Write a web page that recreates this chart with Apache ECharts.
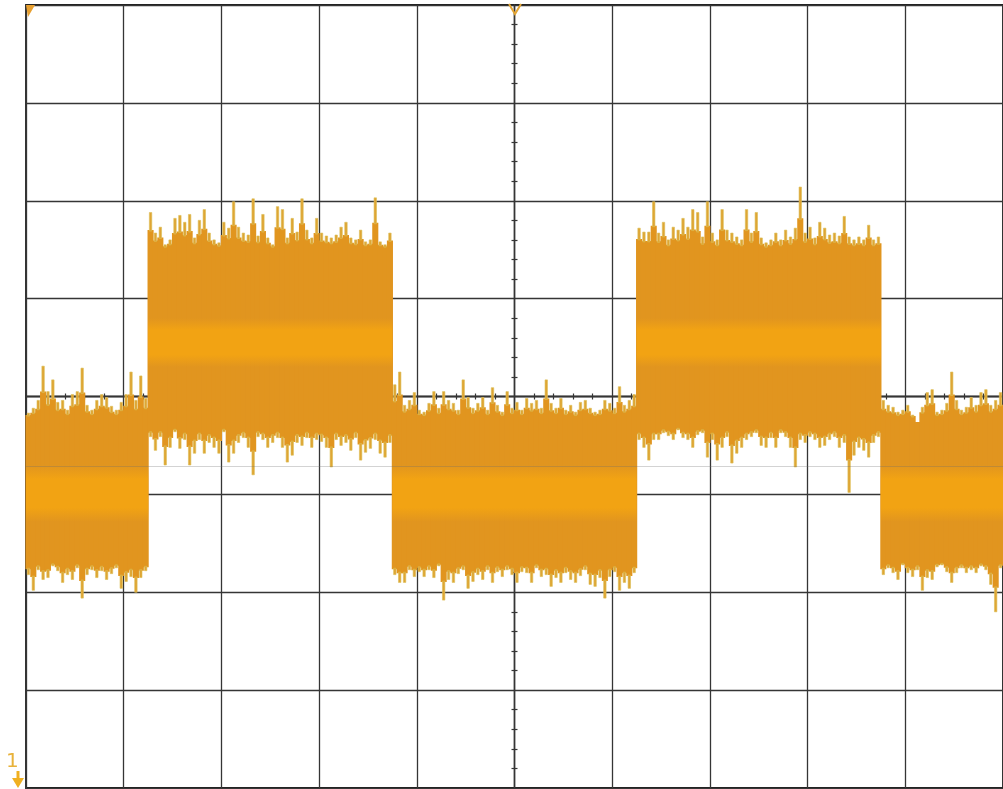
<!DOCTYPE html>
<html>
<head>
<meta charset="utf-8">
<script src="https://cdn.jsdelivr.net/npm/echarts@6/dist/echarts.min.js"></script>
<style>
html,body{margin:0;padding:0;background:#fff;}
#chart{width:1003px;height:789px;}
</style>
</head>
<body>
<div id="chart"></div>
<script>
// ---- Data (screen divisions; time -5..5 div, amplitude -4..4 div) ----
const T0 = -5;          // left edge of screen (div)
const DT = 0.05;        // sample column width (div)

// state 1: low (t -5 .. -3.75)
const lowA_top = [-0.17,-0.12,-0.04,0.31,0.05,0.17,-0.06,-0.04,-0.14,0.02,0.05,0.29,-0.09,-0.14,-0.04,0.02,-0.01,-0.10,-0.14,-0.06,0.02,0.25,-0.04,0.21,-0.02];
const lowA_bot = [-1.82,-1.98,-1.77,-1.87,-1.85,-1.73,-1.78,-1.90,-1.82,-1.87,-1.75,-2.06,-1.82,-1.77,-1.85,-1.78,-1.87,-1.81,-1.75,-1.96,-1.89,-1.84,-2.00,-1.85,-1.78];
// state 2: high (t -3.75 .. -1.25)
const highA_top = [1.88,1.67,1.73,1.55,1.60,1.82,1.85,1.78,1.86,1.62,1.80,1.91,1.67,1.60,1.57,1.78,1.72,1.99,1.73,1.67,1.65,2.02,1.64,1.86,1.62,1.55,1.94,1.91,1.62,1.82,1.68,2.02,1.70,1.62,1.82,1.67,1.64,1.62,1.65,1.73,1.78,1.62,1.60,1.70,1.58,1.60,2.03,1.58,1.55,1.67];
const highA_bot = [-0.41,-0.55,-0.41,-0.70,-0.52,-0.36,-0.53,-0.44,-0.70,-0.58,-0.44,-0.58,-0.47,-0.52,-0.58,-0.36,-0.67,-0.58,-0.47,-0.42,-0.52,-0.80,-0.41,-0.44,-0.52,-0.47,-0.42,-0.52,-0.67,-0.60,-0.47,-0.50,-0.42,-0.52,-0.44,-0.46,-0.52,-0.72,-0.44,-0.50,-0.47,-0.55,-0.42,-0.65,-0.57,-0.53,-0.44,-0.58,-0.62,-0.47];
// state 3: low (t -1.25 .. 1.25)
const lowB_top = [0.12,0.25,-0.09,-0.04,0.04,-0.14,-0.16,-0.07,0.05,-0.12,0.05,-0.04,-0.07,-0.14,0.17,-0.01,-0.12,-0.07,-0.01,-0.14,0.09,-0.09,-0.16,0.05,-0.12,-0.06,-0.14,-0.02,-0.07,-0.04,-0.12,0.17,-0.07,-0.12,-0.02,-0.14,-0.09,-0.16,-0.06,-0.04,-0.12,-0.16,-0.14,-0.04,-0.07,-0.12,0.10,-0.09,-0.04,0.02];
const lowB_bot = [-1.82,-1.90,-1.90,-1.77,-1.84,-1.79,-1.84,-1.77,-1.85,-1.73,-2.08,-1.87,-1.90,-1.81,-1.77,-1.96,-1.89,-1.82,-1.87,-1.77,-1.90,-1.79,-1.84,-1.77,-1.82,-1.90,-1.79,-1.80,-1.90,-1.75,-1.84,-1.82,-1.94,-1.85,-1.90,-1.80,-1.87,-1.90,-1.83,-1.77,-1.92,-1.94,-1.85,-2.06,-1.84,-1.79,-1.98,-1.90,-1.96,-1.80];
// state 4: high (t 1.25 .. 3.75)
const highB_top = [1.72,1.68,1.68,1.99,1.67,1.78,1.60,1.73,1.70,1.82,1.73,1.91,1.88,1.63,1.99,1.67,1.60,1.91,1.70,1.67,1.63,1.60,1.91,1.67,1.88,1.62,1.57,1.60,1.67,1.60,1.70,1.63,1.72,2.14,1.67,1.73,1.62,1.78,1.72,1.65,1.67,1.64,1.84,1.63,1.60,1.63,1.60,1.75,1.60,1.63];
const highB_bot = [-0.44,-0.52,-0.65,-0.44,-0.44,-0.37,-0.40,-0.44,-0.34,-0.42,-0.44,-0.52,-0.39,-0.37,-0.62,-0.44,-0.65,-0.52,-0.41,-0.68,-0.58,-0.52,-0.44,-0.41,-0.37,-0.50,-0.52,-0.42,-0.52,-0.37,-0.41,-0.52,-0.72,-0.44,-0.47,-0.41,-0.44,-0.52,-0.50,-0.44,-0.41,-0.52,-0.47,-0.98,-0.60,-0.52,-0.55,-0.62,-0.47,-0.41];
// state 5: low (t 3.75 .. 5)
const lowC_top = [-0.04,-0.09,-0.11,-0.16,-0.14,-0.09,-0.19,-0.26,-0.11,0.04,0.07,-0.16,-0.14,-0.07,0.25,-0.04,-0.14,-0.11,-0.01,-0.09,0.04,0.07,-0.09,-0.04,0.04];
const lowC_bot = [-1.82,-1.75,-1.80,-1.87,-1.72,-1.80,-1.84,-1.77,-1.98,-1.85,-1.87,-1.74,-1.72,-1.79,-1.90,-1.80,-1.75,-1.80,-1.77,-1.80,-1.73,-1.77,-1.92,-2.20,-1.75];

// state boundaries and the dense body / centre band of each state
const stateEdges = [-5, -3.75, -1.25, 1.25, 3.75, 5];
const bodyTop = [-0.21, 1.52, -0.21, 1.50, -0.21];
const bodyBot = [-1.71, -0.33, -1.71, -0.33, -1.71];
const coreTop = [-0.70, 0.80, -0.70, 0.80, -0.70];
const coreBot = [-1.28, 0.30, -1.28, 0.30, -1.28];

// faint scan line across the screen
const faintLevel = -0.71;

// ---- Build series data ----
const upper = [].concat(lowA_top, highA_top, lowB_top, highB_top, lowC_top);
const lower = [].concat(lowA_bot, highA_bot, lowB_bot, highB_bot, lowC_bot);
const columns = [];
for (let i = 0; i < upper.length; i++) {
  const t = +(T0 + i * DT).toFixed(3);
  const t1 = +(T0 + (i + 1) * DT).toFixed(3);
  let s = 0;
  while (s < stateEdges.length - 2 && t >= stateEdges[s + 1] - 1e-9) s++;
  columns.push([t, t1, lower[i], upper[i], bodyBot[s], bodyTop[s]]);
}
const coreData = [];
for (let s = 0; s < coreTop.length; s++) {
  coreData.push([stateEdges[s], stateEdges[s + 1], coreTop[s], coreBot[s]]);
}

// ---- Styles ----
const GRID_C = '#353535';
const BODY = '#e1951f';
const CORE = '#f2a313';
const SPIKE = '#dfa534';
const FRINGE = '#dcc056';
const SOLID_SHARE = 0.5;   // share of the excursion drawn as the full-width ragged edge

const tickStyle = { color: GRID_C, width: 1.2 };
function centerAxis(pos, dimType) {
  return {
    type: 'value', min: dimType === 'x' ? -5 : -4, max: dimType === 'x' ? 5 : 4, interval: 1,
    position: pos,
    axisLine: { show: true, onZero: true, lineStyle: { color: GRID_C, width: 1.3 } },
    axisTick: { show: false },
    minorTick: { show: true, splitNumber: 5, length: 3, lineStyle: tickStyle },
    axisLabel: { show: false },
    splitLine: { show: false },
    minorSplitLine: { show: false }
  };
}
const xMain = centerAxis('bottom', 'x');
xMain.splitLine = { show: true, lineStyle: { color: GRID_C, width: 1.3 } };
const xTop = centerAxis('top', 'x');
const yMain = centerAxis('left', 'y');
yMain.splitLine = { show: true, lineStyle: { color: GRID_C, width: 1.3 } };
const yRight = centerAxis('right', 'y');

const chart = echarts.init(document.getElementById('chart'), null, { renderer: 'canvas' });
chart.setOption({
  animation: false,
  backgroundColor: '#ffffff',
  grid: { left: 26, right: 0, top: 5, bottom: 1, show: true, borderColor: '#1e1e1e', borderWidth: 1.8, backgroundColor: 'transparent' },
  xAxis: [xMain, xTop],
  yAxis: [yMain, yRight],
  series: [
    {
      name: 'trace', type: 'custom', data: columns,
      xAxisIndex: 0, yAxisIndex: 0, z: 2,
      encode: { x: [0, 1], y: [2, 3] },
      renderItem: function (params, api) {
        const t0 = api.value(0), t1 = api.value(1);
        const lo = api.value(2), hi = api.value(3);
        const bB = api.value(4), bT = api.value(5);
        const xa = api.coord([t0, 0])[0], xb = api.coord([t1, 0])[0];
        const w = xb - xa;
        const children = [];
        // ragged full-width part
        const rT = hi > bT ? bT + (hi - bT) * SOLID_SHARE : hi;
        const rB = lo < bB ? bB - (bB - lo) * SOLID_SHARE : lo;
        const yT = api.coord([t0, rT])[1], yB = api.coord([t0, rB])[1];
        children.push({ type: 'rect', shape: { x: xa - 0.6, y: yT, width: w + 1.2, height: yB - yT }, style: { fill: BODY } });
        // thin spikes beyond it
        if (hi > bT) {
          const ys = api.coord([t0, hi])[1];
          children.push({ type: 'rect', shape: { x: xa + w * 0.25, y: ys, width: w * 0.5, height: yT - ys + 1 },
            style: { fill: SPIKE, stroke: FRINGE, lineWidth: 0.6 } });
        }
        if (lo < bB) {
          const ys = api.coord([t0, lo])[1];
          children.push({ type: 'rect', shape: { x: xa + w * 0.25, y: yB - 1, width: w * 0.5, height: ys - yB + 1 },
            style: { fill: SPIKE, stroke: FRINGE, lineWidth: 0.6 } });
        }
        return { type: 'group', children: children };
      }
    },
    {
      name: 'core', type: 'custom', data: coreData,
      xAxisIndex: 0, yAxisIndex: 0, z: 3,
      encode: { x: [0, 1], y: [2, 3] },
      renderItem: function (params, api) {
        const p0 = api.coord([api.value(0), api.value(2)]);
        const p1 = api.coord([api.value(1), api.value(3)]);
        return {
          type: 'rect',
          shape: { x: p0[0], y: p0[1], width: p1[0] - p0[0], height: p1[1] - p0[1] },
          style: {
            fill: new echarts.graphic.LinearGradient(0, 0, 0, 1, [
              { offset: 0, color: 'rgba(242,163,19,0)' },
              { offset: 0.25, color: CORE },
              { offset: 0.75, color: CORE },
              { offset: 1, color: 'rgba(242,163,19,0)' }
            ])
          }
        };
      }
    },
    {
      name: 'scan', type: 'line', data: [],
      xAxisIndex: 0, yAxisIndex: 0, z: 4,
      markLine: {
        silent: true, symbol: 'none', label: { show: false },
        lineStyle: { color: 'rgba(110,110,110,0.3)', width: 1, type: 'solid' },
        data: [{ yAxis: faintLevel }]
      }
    }
  ],
  graphic: [
    { type: 'polygon', shape: { points: [[26, 5], [35, 5], [28, 17]] }, style: { fill: '#e8a030' }, z: 10 },
    { type: 'polyline', shape: { points: [[509, 4], [515, 14], [521, 4]] }, style: { stroke: '#e3a534', lineWidth: 2, fill: null }, z: 10 },
    { type: 'text', left: 6, top: 752, style: { text: '1', fill: '#e8b23a', font: '20px "DejaVu Sans"' }, z: 10 },
    { type: 'rect', shape: { x: 16.5, y: 771, width: 3, height: 8 }, style: { fill: '#f0b020' }, z: 10 },
    { type: 'polygon', shape: { points: [[12, 778], [24, 778], [18, 788]] }, style: { fill: '#f0b020' }, z: 10 }
  ]
});
</script>
</body>
</html>
